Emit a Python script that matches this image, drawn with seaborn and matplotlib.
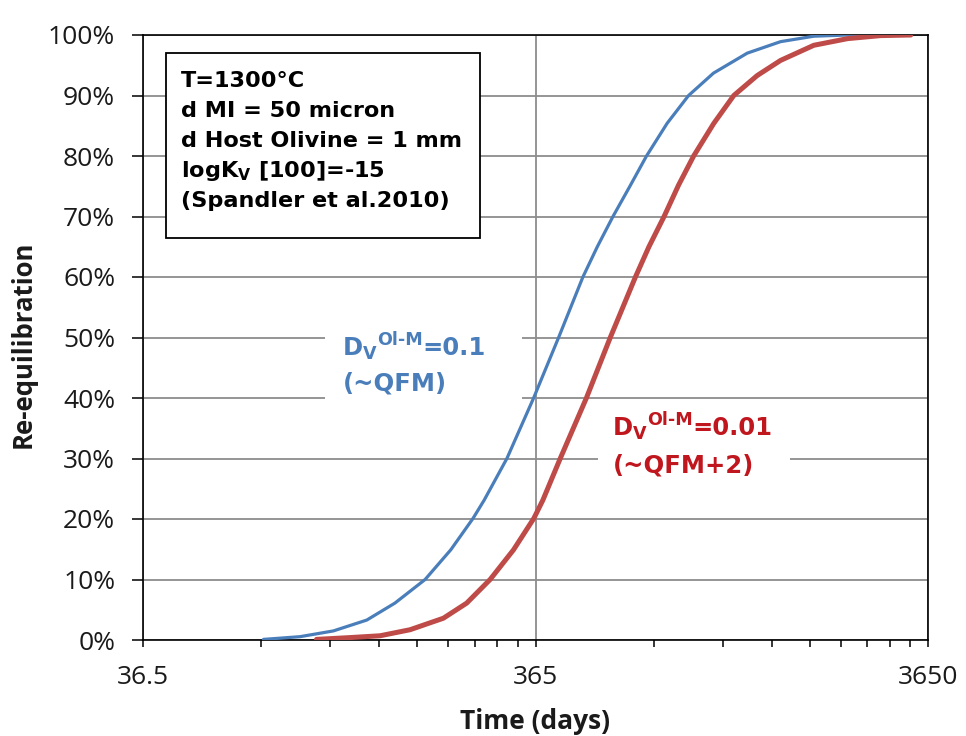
import numpy as np
import pandas as pd
import matplotlib
matplotlib.use("Agg")
import matplotlib.pyplot as plt
import matplotlib.ticker as mticker
from matplotlib.patches import Rectangle
import seaborn as sns

# values (days, % re-equilibrated)
blue_days = [74, 91.7, 111.5, 135.7, 160, 191, 222, 253, 270, 308.6, 361, 418, 482,
             524.5, 575, 635, 700, 790, 896, 1037, 1264, 1537, 1868, 2277, 3300]
blue_pct = [0.1, 0.55, 1.5, 3.3, 6.1, 10, 14.9, 20.1, 23.1, 30, 40, 50, 60,
            65, 70, 75, 80, 85.4, 90, 93.7, 97, 98.9, 99.8, 100, 100]
red_days = [101, 123, 146.7, 174.9, 212.6, 243.8, 279.7, 320.8, 361.4, 381, 422, 492, 566,
            656, 710, 776, 845, 923, 1039, 1168, 1340, 1537, 1868, 2277, 2762, 3300]
red_pct = [0.1, 0.4, 0.7, 1.7, 3.6, 6.1, 10, 14.9, 20.1, 23.1, 30, 40, 50,
           60, 65, 70, 75.2, 80, 85.4, 90, 93.3, 95.8, 98.3, 99.4, 99.9, 100]

x_ticks = [36.5, 365, 3650]
x_labels = ["36.5", "365", "3650"]
y_ticks = list(range(0, 101, 10))
y_labels = [f"{v}%" for v in y_ticks]

box_lines = ["T=1300°C", "d MI = 50 micron", "d Host Olivine = 1 mm",
             r"logK$_\mathbf{V}$ [100]=-15", "(Spandler et al.2010)"]
# (text, style) pieces: n = normal, sub = subscript, sup = superscript
blue_note = [("D", "n"), ("V", "sub"), ("Ol-M", "sup"), ("=0.1", "n")]
blue_note2 = "(~QFM)"
red_note = [("D", "n"), ("V", "sub"), ("Ol-M", "sup"), ("=0.01", "n")]
red_note2 = "(~QFM+2)"

blue_line = "#4a7ebb"
red_line = "#be4b48"
blue_txt = "#4a7ebb"
red_txt = "#c0161e"

sns.set_style("white")
plt.rcParams["font.family"] = ["Open Sans", "DejaVu Sans"]
plt.rcParams["mathtext.fontset"] = "dejavusans"

W, H = 966, 736
fig = plt.figure(figsize=(W / 100, H / 100), dpi=100)


def fx(px):
    return px / W


def fy(py):
    return 1 - py / H


ax = fig.add_axes([fx(143), fy(640), (928 - 143) / W, (640 - 35) / H])

blue_df = pd.DataFrame({"days": blue_days, "pct": blue_pct})
red_df = pd.DataFrame({"days": red_days, "pct": red_pct})
sns.lineplot(data=blue_df, x="days", y="pct", ax=ax, color=blue_line, linewidth=2.3,
             estimator=None, sort=False, zorder=3)
sns.lineplot(data=red_df, x="days", y="pct", ax=ax, color=red_line, linewidth=3.6,
             estimator=None, sort=False, zorder=4)

ax.set_xscale("log")
ax.set_xlim(36.5, 3650)
ax.set_ylim(0, 100)
ax.xaxis.set_major_locator(mticker.FixedLocator(x_ticks))
ax.xaxis.set_major_formatter(mticker.FixedFormatter(x_labels))
minor = [36.5 * k * 10 ** d for d in (0, 1) for k in range(2, 10)]
ax.xaxis.set_minor_locator(mticker.FixedLocator(minor))
ax.xaxis.set_minor_formatter(mticker.NullFormatter())
ax.set_yticks(y_ticks)
ax.set_yticklabels(y_labels)

ax.grid(axis="y", color="#8c8c8c", linewidth=1.3)
ax.grid(axis="x", which="major", color="#8c8c8c", linewidth=1.3)
ax.set_axisbelow(True)
for s in ax.spines.values():
    s.set_color("black")
    s.set_linewidth(1.2)

ax.tick_params(axis="x", which="both", direction="out", length=5, width=1.1,
               color="black", labelsize=19, labelcolor="#1a1a1a", pad=13, bottom=True)
ax.tick_params(axis="y", direction="out", length=8, width=1.1, color="black",
               labelsize=19, labelcolor="#1a1a1a", pad=12, left=True)

ax.set_xlabel("Time (days)", fontsize=19, fontweight="bold", color="#1a1a1a")
ax.set_ylabel("Re-equilibration", fontsize=18.5, fontweight="bold", color="#1a1a1a")
ax.xaxis.set_label_coords(0.5, (640 - 708) / 605)
ax.yaxis.set_label_coords((37 - 143) / 785, 0.488)

# parameter box
ax.add_patch(Rectangle((fx(166), fy(238)), (480 - 166) / W, (238 - 53) / H,
                       transform=fig.transFigure, facecolor="white",
                       edgecolor="black", linewidth=1.3, zorder=5, clip_on=False))
for i, line in enumerate(box_lines):
    ax.text(fx(181), fy(87 + 30 * i), line, fontsize=16.1, fontweight="bold",
            family="DejaVu Sans", va="baseline", ha="left", color="black",
            transform=fig.transFigure, zorder=6)

# white patches behind the curve labels
ax.add_patch(Rectangle((fx(325), fy(405)), (522 - 325) / W, (405 - 322) / H,
                       transform=fig.transFigure, facecolor="white", edgecolor="none",
                       zorder=5, clip_on=False))
ax.add_patch(Rectangle((fx(598), fy(492)), (790 - 598) / W, (492 - 410) / H,
                       transform=fig.transFigure, facecolor="white", edgecolor="none",
                       zorder=5, clip_on=False))


def rich_line(x, base, parts, color, size):
    shift = {"n": 0, "sub": 4, "sup": -10}
    prev = None
    for text, kind in parts:
        fs = size if kind == "n" else size * 0.72
        y = fy(base + shift[kind])
        kw = dict(fontsize=fs, fontweight="bold", family="DejaVu Sans", color=color,
                  va="baseline", ha="left", zorder=6)
        if prev is None:
            prev = ax.text(fx(x), y, text, transform=fig.transFigure, **kw)
        else:
            prev = ax.annotate(text, xy=(1, y), xycoords=(prev, "figure fraction"),
                               annotation_clip=False, **kw)


rich_line(343, 355, blue_note, blue_txt, 17.5)
ax.text(fx(343), fy(391), blue_note2, fontsize=17.5, fontweight="bold",
        family="DejaVu Sans", va="baseline", ha="left", color=blue_txt,
        transform=fig.transFigure, zorder=6)
rich_line(613, 435, red_note, red_txt, 17.5)
ax.text(fx(613), fy(472), red_note2, fontsize=17.5, fontweight="bold",
        family="DejaVu Sans", va="baseline", ha="left", color=red_txt,
        transform=fig.transFigure, zorder=6)

fig.savefig("out.png", dpi=100)
